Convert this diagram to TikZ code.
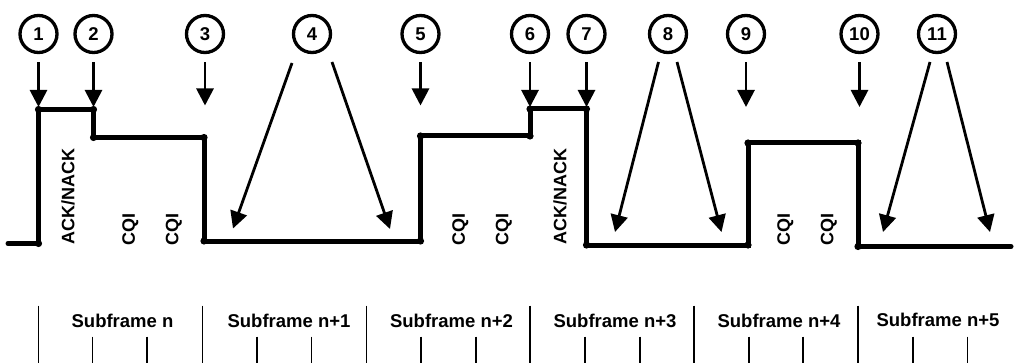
\documentclass[tikz,border=0pt]{standalone}
\usepackage{fontspec}
\setmainfont{Liberation Sans}
\usetikzlibrary{arrows.meta}
\begin{document}
\begin{tikzpicture}[x=1pt,y=-1pt,
  num/.style={circle,draw,line width=3.3pt,minimum size=37pt,inner sep=0pt,font=\fontsize{18.5}{18.5}\selectfont\bfseries},
  arr/.style={line width=2.8pt,-{Triangle[length=17pt,width=17pt]}},
  varr/.style={arr,shorten <=8pt},
  sig/.style={line width=5pt,line join=miter,line cap=round},
  rot/.style={rotate=90,anchor=west,inner sep=0pt,text height=12.9pt,text depth=0pt,font=\fontsize{18}{18}\selectfont\bfseries},
  lbl/.style={anchor=base,inner sep=0pt,font=\fontsize{18.5}{18.5}\selectfont\bfseries},
  tick/.style={line width=1.5pt}]
\useasboundingbox (0,0) rectangle (1016,363);

% numbered circles
\node[num] (c1) at (38.5,34) {1};
\node[num] (c2) at (93.5,34) {2};
\node[num] (c3) at (205,34) {3};
\node[num] (c4) at (312,34) {4};
\node[num] (c5) at (420.5,34) {5};
\node[num] (c6) at (530,34) {6};
\node[num] (c7) at (586.5,34) {7};
\node[num] (c8) at (668,34) {8};
\node[num] (c9) at (746,34) {9};
\node[num] (c10) at (859.5,34) {10};
\node[num] (c11) at (937,34) {11};

% signal corners
\coordinate (p0) at (8,243.5);
\coordinate (p1) at (38.5,243.5);
\coordinate (p2) at (38.5,109.5);
\coordinate (p3) at (93.5,109.5);
\coordinate (p4) at (93.5,137.5);
\coordinate (p5) at (204,137.5);
\coordinate (p6) at (204,241);
\coordinate (p7) at (420.5,241);
\coordinate (p8) at (420.5,136);
\coordinate (p9) at (530,136);
\coordinate (p10) at (530,109);
\coordinate (p11) at (586.5,109);
\coordinate (p12) at (586.5,245);
\coordinate (p13) at (748,245);
\coordinate (p14) at (748,143);
\coordinate (p15) at (858,143);
\coordinate (p16) at (858,246.5);
\coordinate (p17) at (1011,246.5);

\draw[sig] (p0) -- (p1) -- (p2) -- (p3) -- (p4) -- (p5) -- (p6) -- (p7) -- (p8)
  -- (p9) -- (p10) -- (p11) -- (p12) -- (p13) -- (p14) -- (p15) -- (p16) -- (p17);
\foreach \i in {1,...,16} \fill (p\i) circle (3.6pt);

% vertical arrow tips
\coordinate (t1) at (38.5,107);
\coordinate (t2) at (93.5,107);
\coordinate (t3) at (205,105.5);
\coordinate (t5) at (420.5,105.5);
\coordinate (t6) at (530,107);
\coordinate (t7) at (586.5,107);
\coordinate (t9) at (746,107);
\coordinate (t10) at (859.5,107);
\foreach \i in {1,2,3,5,6,7,9,10} \draw[varr] (c\i) -- (t\i);

% diagonal arrows
\coordinate (s4a) at (292,63);
\coordinate (e4a) at (233,228.5);
\coordinate (s4b) at (332,62);
\coordinate (e4b) at (390,229);
\coordinate (s8a) at (658.5,62);
\coordinate (e8a) at (615,232);
\coordinate (s8b) at (677,62);
\coordinate (e8b) at (721.5,232);
\coordinate (s11a) at (930,62);
\coordinate (e11a) at (883,232);
\coordinate (s11b) at (947,62);
\coordinate (e11b) at (990,232);
\foreach \i in {4a,4b,8a,8b,11a,11b} \draw[arr] (s\i) -- (e\i);

% rotated labels
\node[rot] (a1) at (68,244.5) {ACK/NACK};
\node[rot] (q1) at (128.5,245.5) {CQI};
\node[rot] (q2) at (172,245.5) {CQI};
\node[rot] (q3) at (458.5,245.5) {CQI};
\node[rot] (q4) at (502,245.5) {CQI};
\node[rot] (a2) at (560,244.5) {ACK/NACK};
\node[rot] (q5) at (783.5,246) {CQI};
\node[rot] (q6) at (827,246) {CQI};

% subframe ticks
\foreach \x in {38.5,202.5,366.5,530,694,858} \draw[tick] (\x,305.5) -- (\x,363);
\foreach \x in {92.5,147,257,311.5,421,476,585,640,749,803,913,967.5} \draw[tick] (\x,336.5) -- (\x,363);

% subframe labels
\node[lbl] (f0) at (122.5,327) {Subframe n};
\node[lbl] (f1) at (289,327) {Subframe n+1};
\node[lbl] (f2) at (451.5,327) {Subframe n+2};
\node[lbl] (f3) at (615,327) {Subframe n+3};
\node[lbl] (f4) at (779,327) {Subframe n+4};
\node[lbl] (f5) at (938,326) {Subframe n+5};
\end{tikzpicture}
\end{document}
